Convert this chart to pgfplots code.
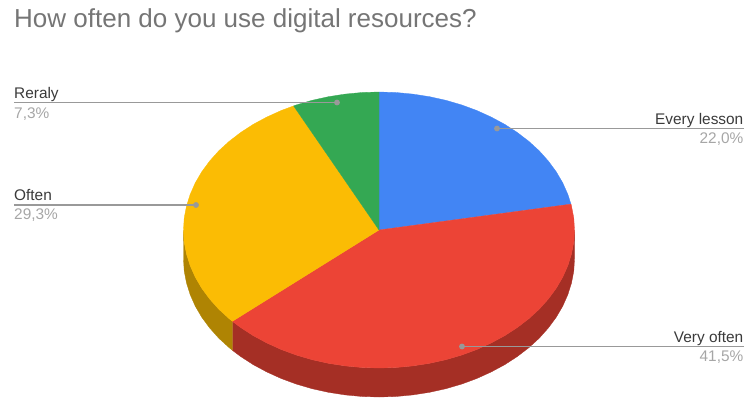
\documentclass[border=0pt]{standalone}
\usepackage{pgfplots}
\pgfplotsset{compat=1.18}
\usepackage{fontspec}
\setmainfont{Liberation Sans}
\definecolor{sliceblue}{HTML}{4285F4}
\definecolor{slicered}{HTML}{EC4436}
\definecolor{sliceyellow}{HTML}{FBBC04}
\definecolor{slicegreen}{HTML}{34A853}
\definecolor{sidered}{HTML}{A52F25}
\definecolor{sideyellow}{HTML}{AF8403}
\definecolor{titlegrey}{HTML}{757575}
\definecolor{labeldark}{HTML}{3A3A3A}
\definecolor{valuegrey}{HTML}{A6A6A6}
\definecolor{leadergrey}{HTML}{999999}
\tikzset{
  lab/.style={font=\fontsize{15.4}{17}\selectfont, text=labeldark, inner sep=0pt},
  val/.style={font=\fontsize{15.4}{17}\selectfont, text=valuegrey, inner sep=0pt},
}
\pgfplotsset{
  leader/.style={leadergrey, line width=1.2pt, mark=*, mark size=2.3pt, mark indices={2},
    mark options={fill=leadergrey, draw=leadergrey}},
}
\begin{document}
\begin{tikzpicture}
% Pixel-like coordinates, y growing downwards. The top face is an ellipse
% centred at (379,230); slice edges fall at 22.0, 63.5 and 92.8 percent.
\begin{axis}[
  scale only axis, width=745pt, height=397pt,
  xmin=0, xmax=745, ymin=0, ymax=397, y dir=reverse,
  hide axis, clip=false,
  every axis plot/.append style={line width=0.3pt},
]
% keep the whole canvas in the picture's bounding box
\path (rel axis cs:0,0) rectangle (rel axis cs:1,1);
% side wall, Very often
\addplot[fill=sidered, draw=sidered] coordinates {
  (574.5,230) (573.8,242) (571.5,254) (567.8,265.7) (562.7,277.2) (556.2,288.3) (548.3,299)
  (539.2,309.2) (528.8,318.7) (517.2,327.6) (504.7,335.7) (491.1,343) (476.8,349.5)
  (461.6,355.1) (445.9,359.7) (429.6,363.3) (412.9,365.9) (396,367.5) (379,368)
  (362,367.5) (345.1,365.9) (328.4,363.3) (312.1,359.7) (296.4,355.1) (281.2,349.5)
  (266.9,343) (253.3,335.7) (240.8,327.6) (232.4,321.3)
  (232.4,350.3) (240.8,356.6) (253.3,364.7) (266.9,372) (281.2,378.5) (296.4,384.1)
  (312.1,388.7) (328.4,392.3) (345.1,394.9) (362,396.5) (379,397) (396,396.5) (412.9,394.9)
  (429.6,392.3) (445.9,388.7) (461.6,384.1) (476.8,378.5) (491.1,372) (504.7,364.7)
  (517.2,356.6) (528.8,347.7) (539.2,338.2) (548.3,328) (556.2,317.3) (562.7,306.2)
  (567.8,294.7) (571.5,283) (573.8,271) (574.5,259) (574.5,230)
};
% side wall, Often
\addplot[fill=sideyellow, draw=sideyellow] coordinates {
  (232.4,321.3) (229.2,318.7) (218.8,309.2) (209.7,299) (201.8,288.3) (195.3,277.2)
  (190.2,265.7) (186.5,254) (184.2,242) (183.5,230)
  (183.5,259) (184.2,271) (186.5,283) (190.2,294.7) (195.3,306.2) (201.8,317.3)
  (209.7,328) (218.8,338.2) (229.2,347.7) (232.4,350.3) (232.4,321.3)
};
% top face, Every lesson 22.0
\addplot[fill=sliceblue, draw=sliceblue] coordinates {
  (379,230) (379,92) (396,92.5) (412.9,94.1) (429.6,96.7) (445.9,100.3) (461.6,104.9)
  (476.8,110.5) (491.1,117) (504.7,124.3) (517.2,132.4) (528.8,141.3) (539.2,150.8)
  (548.3,161) (556.2,171.7) (562.7,182.8) (567.8,194.3) (571,204.1) (379,230)
};
% top face, Very often 41.5
\addplot[fill=slicered, draw=slicered] coordinates {
  (379,230) (571,204.1) (571.5,206) (573.8,218) (574.5,230) (573.8,242) (571.5,254)
  (567.8,265.7) (562.7,277.2) (556.2,288.3) (548.3,299) (539.2,309.2) (528.8,318.7)
  (517.2,327.6) (504.7,335.7) (491.1,343) (476.8,349.5) (461.6,355.1) (445.9,359.7)
  (429.6,363.3) (412.9,365.9) (396,367.5) (379,368) (362,367.5) (345.1,365.9) (328.4,363.3)
  (312.1,359.7) (296.4,355.1) (281.2,349.5) (266.9,343) (253.3,335.7) (240.8,327.6)
  (232.4,321.3) (379,230)
};
% top face, Often 29.3
\addplot[fill=sliceyellow, draw=sliceyellow] coordinates {
  (379,230) (232.4,321.3) (229.2,318.7) (218.8,309.2) (209.7,299) (201.8,288.3) (195.3,277.2)
  (190.2,265.7) (186.5,254) (184.2,242) (183.5,230) (184.2,218) (186.5,206) (190.2,194.3)
  (195.3,182.8) (201.8,171.7) (209.7,161) (218.8,150.8) (229.2,141.3) (240.8,132.4)
  (253.3,124.3) (266.9,117) (281.2,110.5) (293.6,105.9) (379,230)
};
% top face, Reraly 7.3
\addplot[fill=slicegreen, draw=slicegreen] coordinates {
  (379,230) (293.6,105.9) (296.4,104.9) (312.1,100.3) (328.4,96.7) (345.1,94.1) (362,92.5)
  (379,92) (379,230)
};
% leader lines from the slices to their labels
\addplot[leader] coordinates {(14,102.5) (337,102.5)};
\addplot[leader] coordinates {(14,205) (196,205)};
\addplot[leader] coordinates {(744,128.5) (497,128.5)};
\addplot[leader] coordinates {(744,346.5) (462,346.5)};
% title and slice labels
\node[anchor=base west, inner sep=0pt, text=titlegrey, font=\fontsize{26}{30}\selectfont]
  at (axis cs:14,27) {How often do you use digital resources?};
\node[lab, anchor=base west] at (axis cs:14,98) {Reraly};
\node[val, anchor=base west] at (axis cs:14,118) {7,3\%};
\node[lab, anchor=base west] at (axis cs:14,200) {Often};
\node[val, anchor=base west] at (axis cs:14,219) {29,3\%};
\node[lab, anchor=base east] at (axis cs:743.5,124) {Every lesson};
\node[val, anchor=base east] at (axis cs:743.5,143.5) {22,0\%};
\node[lab, anchor=base east] at (axis cs:743.5,342.5) {Very often};
\node[val, anchor=base east] at (axis cs:743.5,361.5) {41,5\%};
\end{axis}
\end{tikzpicture}
\end{document}
